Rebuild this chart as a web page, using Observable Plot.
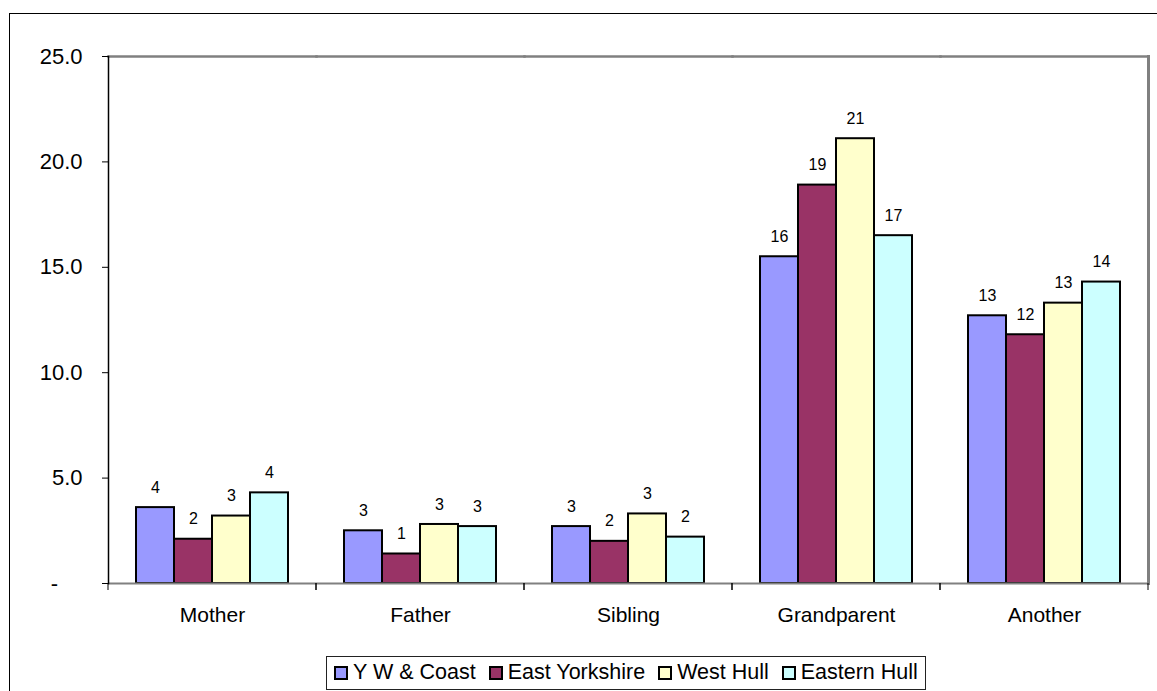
<!DOCTYPE html>
<html>
<head>
<meta charset="utf-8">
<script src="https://cdn.jsdelivr.net/npm/d3@7"></script>
<script src="https://cdn.jsdelivr.net/npm/@observablehq/plot@0.6"></script>
<style>
  html, body { margin: 0; padding: 0; background: #fff; overflow: hidden; width: 1157px; height: 691px; }
  body { position: relative; font-family: "Liberation Sans", Arial, sans-serif; }
  #outer { position: absolute; left: 9px; top: 13px; width: 1300px; height: 900px; border: 1.5px solid #000; box-sizing: border-box; }
  #chart { position: absolute; left: 0; top: 0; }
  #legend { position: absolute; left: 326px; top: 656px; width: 600px; height: 34px; border: 1px solid #222; box-sizing: border-box;
            display: flex; align-items: center; padding-left: 7px; background: #fff; }
  .item { display: flex; align-items: center; margin-right: 13px; font-size: 21.5px; line-height: 1; color: #000; white-space: nowrap; }
  .sw { width: 10px; height: 10px; border: 2px solid #000; margin-right: 5px; flex: none; }
</style>
</head>
<body>
<div id="outer"></div>
<div id="chart"></div>
<div id="legend"></div>
<script>
const categories = ["Mother", "Father", "Sibling", "Grandparent", "Another"];
const series = ["Y W & Coast", "East Yorkshire", "West Hull", "Eastern Hull"];
const colors = ["#9999FF", "#993366", "#FFFFCC", "#CCFFFF"];
const ywCoast       = [3.6, 2.5, 2.7, 15.5, 12.7];
const eastYorkshire = [2.1, 1.4, 2.0, 18.9, 11.8];
const westHull      = [3.2, 2.8, 3.3, 21.1, 13.3];
const easternHull   = [4.3, 2.7, 2.2, 16.5, 14.3];
const yTicks = [0, 5, 10, 15, 20, 25];

const valuesBySeries = [ywCoast, eastYorkshire, westHull, easternHull];
const data = [];
categories.forEach((c, i) => series.forEach((s, j) => data.push({category: c, series: s, value: valuesBySeries[j][i]})));

function boundaryTicks(index, scales, values, dims) {
  const g = d3.create("svg:g");
  const y0 = dims.height - dims.marginBottom;
  for (const x of [dims.marginLeft, dims.width - dims.marginRight]) {
    g.append("line").attr("x1", x).attr("x2", x).attr("y1", y0).attr("y2", y0 + 7)
      .attr("stroke", "#000").attr("stroke-width", 1);
  }
  return g.node();
}

const chart = Plot.plot({
  width: 1157,
  height: 640,
  marginTop: 56,
  marginLeft: 106,
  marginRight: 8,
  marginBottom: 57,
  style: {fontFamily: "'Liberation Sans', Arial, sans-serif", fontSize: "21px", color: "#000", background: "transparent"},
  fx: {domain: categories, padding: 0, axis: null},
  x: {domain: series, paddingInner: 0, paddingOuter: 0.735, axis: null},
  y: {domain: [0, 25], axis: null},
  color: {domain: series, range: colors},
  marks: [
    Plot.frame({anchor: "top", stroke: "#808080", strokeWidth: 2.5}),
    Plot.frame({anchor: "right", facetAnchor: "right", stroke: "#808080", strokeWidth: 3}),
    Plot.barY(data, {fx: "category", x: "series", y: "value", fill: "series", stroke: "#000", strokeWidth: 2}),
    Plot.ruleY([0], {stroke: "#808080", strokeWidth: 2}),
    Plot.frame({anchor: "left", facetAnchor: "left", stroke: "#000", strokeWidth: 1.5}),
    Plot.text(data, {fx: "category", x: "series", y: "value", text: d => String(Math.round(d.value)), dy: -20, fontSize: 16, fill: "#000"}),
    Plot.axisY({ticks: yTicks, tickSize: 6, tickPadding: 20, stroke: "#000", label: null,
      tickFormat: d => d === 0 ? "-\u00a0\u00a0\u00a0\u00a0" : d.toFixed(1), fontSize: 22}),
    Plot.axisFx({anchor: "bottom", tickSize: 0, tickPadding: 24, fontSize: 21, label: null}),
    boundaryTicks
  ]
});
document.getElementById("chart").appendChild(chart);

const legend = document.getElementById("legend");
series.forEach((s, j) => {
  const item = document.createElement("div");
  item.className = "item";
  const sw = document.createElement("div");
  sw.className = "sw";
  sw.style.background = colors[j];
  item.appendChild(sw);
  const t = document.createElement("span");
  t.textContent = s;
  item.appendChild(t);
  legend.appendChild(item);
});
</script>
</body>
</html>
